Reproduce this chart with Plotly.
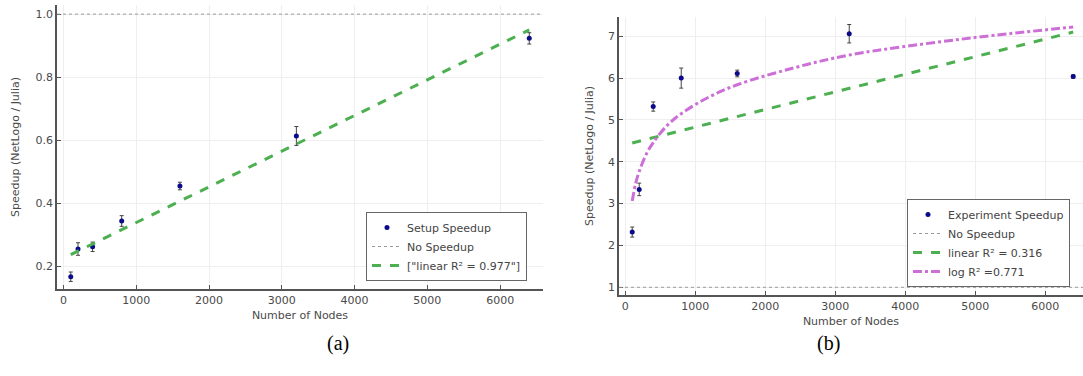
import plotly.graph_objects as go

# ---------------- data ----------------
nodes = [100, 200, 400, 800, 1600, 3200, 6400]

# (a) setup speedup
setup_speedup = [0.166, 0.254, 0.261, 0.343, 0.454, 0.613, 0.923]
setup_err = [0.015, 0.020, 0.015, 0.017, 0.012, 0.030, 0.018]
setup_fit_x = [100, 6400]
setup_fit_y = [0.236, 0.950]

# (b) experiment speedup
exp_speedup = [2.32, 3.34, 5.32, 6.00, 6.11, 7.06, 6.04]
exp_err = [0.12, 0.15, 0.11, 0.24, 0.08, 0.22, 0.04]
exp_lin_x = [100, 6400]
exp_lin_y = [4.45, 7.10]
exp_log_x = [100, 150, 200, 300, 400, 600, 800, 1200, 1600, 2400, 3200, 4800, 6400]
exp_log_y = [3.06, 3.49, 3.77, 4.18, 4.46, 4.87, 5.15, 5.55, 5.84, 6.24, 6.55, 6.93, 7.22]

no_speedup = 1.0

xticks = [0, 1000, 2000, 3000, 4000, 5000, 6000]
yticks_a = [0.2, 0.4, 0.6, 0.8, 1.0]
yticks_a_text = ["0.2", "0.4", "0.6", "0.8", "1.0"]
yticks_b = [1, 2, 3, 4, 5, 6, 7]

labels_a = ["Setup Speedup", "No Speedup", "[\"linear R² = 0.977\"]"]
labels_b = ["Experiment Speedup", "No Speedup", "linear R² = 0.316", "log R² =0.771"]

# ---------------- style ----------------
FONT = "DejaVu Sans"
NAVY = "#0b0b8a"
GREEN = "#4caf50"
ORCHID = "#cc6fd6"
GREY = "#9a9a9a"
AXIS = "#555555"
TXT = "#4a4a4a"

fig = go.Figure()

# (a)
fig.add_trace(go.Scatter(
    x=nodes, y=setup_speedup, mode="markers", name=labels_a[0],
    marker=dict(color=NAVY, size=5),
    error_y=dict(type="data", array=setup_err, color="#444444", thickness=1, width=2),
    xaxis="x", yaxis="y", legend="legend"))
fig.add_trace(go.Scatter(
    x=[None], y=[None], mode="lines", name=labels_a[1],
    line=dict(color=GREY, width=1, dash="dot"),
    xaxis="x", yaxis="y", legend="legend"))
fig.add_trace(go.Scatter(
    x=setup_fit_x, y=setup_fit_y, mode="lines", name=labels_a[2],
    line=dict(color=GREEN, width=3, dash="dash"),
    xaxis="x", yaxis="y", legend="legend"))

# (b)
fig.add_trace(go.Scatter(
    x=nodes, y=exp_speedup, mode="markers", name=labels_b[0],
    marker=dict(color=NAVY, size=5),
    error_y=dict(type="data", array=exp_err, color="#444444", thickness=1, width=2),
    xaxis="x2", yaxis="y2", legend="legend2"))
fig.add_trace(go.Scatter(
    x=[None], y=[None], mode="lines", name=labels_b[1],
    line=dict(color=GREY, width=1, dash="dot"),
    xaxis="x2", yaxis="y2", legend="legend2"))
fig.add_trace(go.Scatter(
    x=exp_lin_x, y=exp_lin_y, mode="lines", name=labels_b[2],
    line=dict(color=GREEN, width=3, dash="dash"),
    xaxis="x2", yaxis="y2", legend="legend2"))
fig.add_trace(go.Scatter(
    x=exp_log_x, y=exp_log_y, mode="lines", name=labels_b[3],
    line=dict(color=ORCHID, width=3, dash="dashdot", shape="spline"),
    xaxis="x2", yaxis="y2", legend="legend2"))

fig.add_hline(y=no_speedup, line=dict(color=GREY, width=1, dash="dot"), xref="x", yref="y")
fig.add_hline(y=no_speedup, line=dict(color=GREY, width=1, dash="dot"), xref="x2", yref="y2")

axis_common = dict(
    showgrid=True, gridcolor="#efefef", gridwidth=1,
    showline=True, linecolor=AXIS, linewidth=1.5, mirror=False,
    ticks="inside", ticklen=4, tickcolor=AXIS,
    tickfont=dict(family=FONT, size=11, color=TXT),
    zeroline=False,
)

legend_common = dict(
    bgcolor="white", bordercolor="#666666", borderwidth=1,
    font=dict(family=FONT, size=11, color="#444444"),
    tracegroupgap=0, itemwidth=30,
)

fig.update_layout(
    width=1083, height=376,
    margin=dict(l=0, r=0, t=0, b=0),
    paper_bgcolor="white", plot_bgcolor="white",
    font=dict(family=FONT, size=11, color=TXT),
    xaxis=dict(axis_common, domain=[57/1083, 543/1083], range=[-89, 6589],
               tickvals=xticks, anchor="y",
               title=dict(text="Number of Nodes", font=dict(family=FONT, size=11, color=TXT), standoff=5)),
    yaxis=dict(axis_common, domain=[1-289/376, 1-5/376], range=[0.127, 1.029],
               tickvals=yticks_a, ticktext=yticks_a_text, anchor="x",
               title=dict(text="Speedup (NetLogo / Julia)", font=dict(family=FONT, size=11, color=TXT), standoff=14)),
    xaxis2=dict(axis_common, domain=[619/1083, 1.0], range=[-89, 6540],
                tickvals=xticks, anchor="y2",
                title=dict(text="Number of Nodes", font=dict(family=FONT, size=11, color=TXT), standoff=5)),
    yaxis2=dict(axis_common, domain=[1-295/376, 1-17/376], range=[0.816, 7.46],
                tickvals=yticks_b, anchor="x2",
                title=dict(text="Speedup (NetLogo / Julia)", font=dict(family=FONT, size=11, color=TXT), standoff=12)),
    legend=dict(legend_common, x=527/1083, y=1-281/376, xanchor="right", yanchor="bottom"),
    legend2=dict(legend_common, x=1070/1083, y=1-287/376, xanchor="right", yanchor="bottom"),
    showlegend=True,
    annotations=[
        dict(text="(a)", x=325/1083, y=1-357/376, xref="paper", yref="paper",
             showarrow=False, font=dict(family="Liberation Serif", size=20, color="black")),
        dict(text="(b)", x=842/1083, y=1-357/376, xref="paper", yref="paper",
             showarrow=False, font=dict(family="Liberation Serif", size=20, color="black")),
    ],
)

fig.write_html("out.html")
